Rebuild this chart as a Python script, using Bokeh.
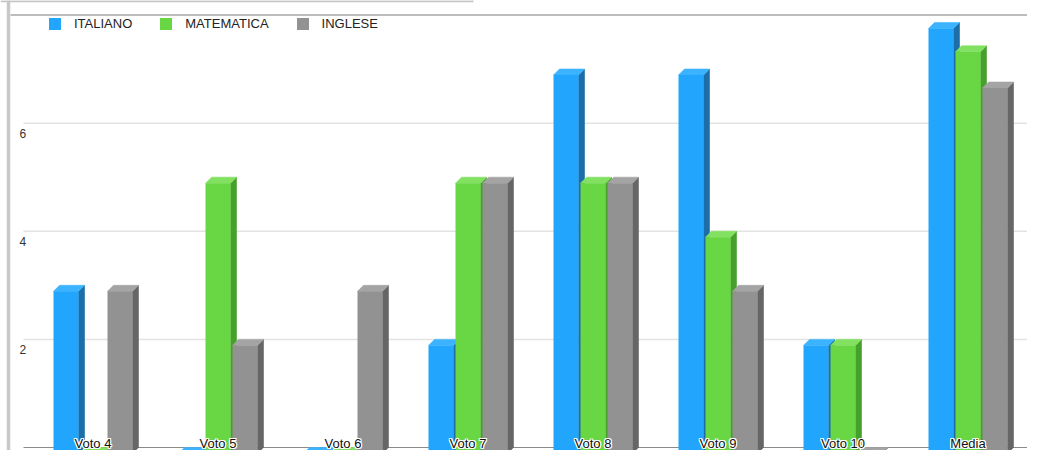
from bokeh.plotting import figure
from bokeh.models import Range1d, Span, Legend, LegendItem
from bokeh.core.properties import value
from bokeh.embed import file_html
from bokeh.resources import INLINE

# ---------------- data ----------------
categories = ["Voto 4", "Voto 5", "Voto 6", "Voto 7", "Voto 8", "Voto 9", "Voto 10", "Media"]
series_names = ["ITALIANO", "MATEMATICA", "INGLESE"]
italiano = [3, 0, 0, 2, 7, 7, 2, 7.86]
matematica = [0, 5, 0, 5, 5, 4, 2, 7.43]
inglese = [3, 2, 3, 5, 5, 3, 0, 6.76]
y_ticks = [2, 4, 6]
y_max = 8

# ---------------- styles / layout ----------------
FONT = "Liberation Sans"
front_colors = ["#22a5fd", "#69d743", "#929292"]
side_colors = ["#1b6ea8", "#46a02b", "#666666"]
top_colors = ["#3cb3fe", "#82e161", "#a4a4a4"]

W, H = 1027, 450
PX_CAT = 125.0                 # px per category
X0 = -92.5 / PX_CAT
X1 = X0 + W / PX_CAT
BASE_PX, TOP_PX = 447, 14.5    # canvas y of 0 and of y_max
PX_VAL = (BASE_PX - TOP_PX) / y_max
Y0 = -(H - BASE_PX) / PX_VAL
Y1 = y_max + TOP_PX / PX_VAL

def px_x(px):
    return X0 + px / PX_CAT

def px_y(py):
    return Y1 - py / PX_VAL

BW = 25 / PX_CAT               # bar width
STEP = 27 / PX_CAT             # bar step
DX = 6 / PX_CAT                # 3d depth
DY = 6 / PX_VAL

p = figure(width=W, height=H, x_range=Range1d(X0, X1), y_range=Range1d(Y0, Y1),
           output_backend="svg", toolbar_location=None, min_border=0,
           x_axis_location=None, y_axis_location=None)
p.grid.visible = False
p.outline_line_color = None
p.background_fill_color = "white"
p.border_fill_color = "white"

# frame decorations
p.segment(x0=[px_x(0)], y0=[px_y(0.8)], x1=[px_x(473)], y1=[px_y(0.8)],
          line_color="#c4c4c4", line_width=2)
p.add_layout(Span(location=px_x(8), dimension="height", line_color="#c8c8c8", line_width=3.5))

# grid lines and baseline (back plane)
gx0 = px_x(23)
p.segment(x0=[gx0] * len(y_ticks), y0=y_ticks, x1=[X1] * len(y_ticks), y1=y_ticks,
          line_color="#e3e3e3", line_width=1.5)
p.segment(x0=[gx0], y0=[0], x1=[X1], y1=[0], line_color="#8a8a8a", line_width=1)
p.segment(x0=[px_x(10)], y0=[y_max], x1=[X1], y1=[y_max], line_color="#bdbdbd", line_width=2)

# y labels
p.text(x=[px_x(19)] * len(y_ticks), y=y_ticks, text=[str(t) for t in y_ticks],
       text_align="left", text_baseline="top", y_offset=6,
       text_font=value(FONT), text_font_size="12px", text_color="#333333")

# bars
legend_items = []
all_series = [italiano, matematica, inglese]
for j, vals in enumerate(all_series):
    side_xs, side_ys, top_xs, top_ys = [], [], [], []
    lefts, rights, tops, bottoms = [], [], [], []
    for i, v in enumerate(vals):
        c = i + (j - 1) * STEP
        L, R = c - BW / 2, c + BW / 2
        side_xs.append([R, R + DX, R + DX, R])
        side_ys.append([v - DY, v, 0, -DY])
        top_xs.append([L, L + DX, R + DX, R])
        top_ys.append([v - DY, v, v, v - DY])
        lefts.append(L); rights.append(R); tops.append(v - DY); bottoms.append(-DY - 0.2)
    p.patches(xs=side_xs, ys=side_ys, fill_color=side_colors[j], line_color=side_colors[j], line_width=0.6)
    p.patches(xs=top_xs, ys=top_ys, fill_color=top_colors[j], line_color=top_colors[j], line_width=0.6)
    r = p.quad(left=lefts, right=rights, top=tops, bottom=bottoms,
               fill_color=front_colors[j], line_color=None)
    legend_items.append(LegendItem(label=series_names[j], renderers=[r]))

# category labels with white halo
xs = list(range(len(categories)))
for ox, oy in [(-1, -1), (0, -1), (1, -1), (-1, 0), (1, 0), (-1, 1), (0, 1), (1, 1)]:
    p.text(x=xs, y=[0] * len(xs), text=categories, text_align="center", text_baseline="middle",
           x_offset=ox, y_offset=-4.5 + oy, text_font=value(FONT), text_font_size="13px",
           text_color="white")
p.text(x=xs, y=[0] * len(xs), text=categories, text_align="center", text_baseline="middle",
       y_offset=-4.5, text_font=value(FONT), text_font_size="13px", text_color="#111111")

legend = Legend(items=legend_items, location=(47, H - 15.5 - 15), orientation="horizontal",
                glyph_width=15, glyph_height=15, label_height=15, label_standoff=12,
                spacing=26, padding=0, margin=0, border_line_color=None,
                background_fill_alpha=0, label_text_font=FONT,
                label_text_font_size="13px", label_text_color="#222222")
p.add_layout(legend)

open("out.html", "w").write(file_html(p, INLINE))
